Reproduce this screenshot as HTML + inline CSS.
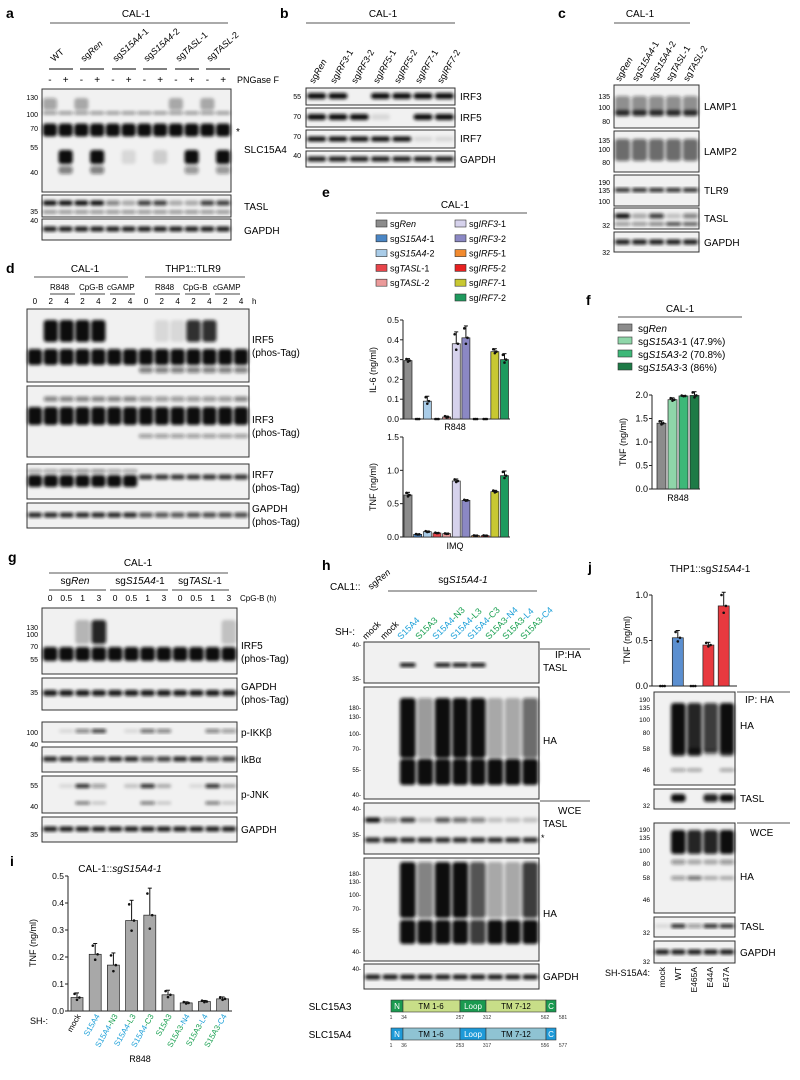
<!DOCTYPE html>
<html><head><meta charset="utf-8">
<style>
html,body{margin:0;padding:0;background:#fff;}
svg{display:block;font-family:"Liberation Sans",Arial,sans-serif;}
.pl{font-weight:bold;font-size:14px;}
.t9{font-size:9px;}
.t10{font-size:10px;}
.mk{font-size:7px;text-anchor:end;}
.it{font-style:italic;}
.cy{fill:#1a9fd8;}
.gr{fill:#18a050;}
</style></head>
<body>
<svg id="fig" width="800" height="1080" viewBox="0 0 800 1080">
<defs><filter id="bl" x="-20%" y="-50%" width="140%" height="200%"><feGaussianBlur stdDeviation="1.5"/></filter></defs>

<!-- Panel a -->
<g>
<text class="pl" x="6" y="18">a</text>
<text class="t10" x="136" y="17" text-anchor="middle">CAL-1</text>
<line x1="50" y1="23" x2="228" y2="23" stroke="#555"/>
<g class="t9">
<text transform="translate(54,62) rotate(-42)">WT</text>
<text transform="translate(84,62) rotate(-42)">sg<tspan class="it">Ren</tspan></text>
<text transform="translate(116,62) rotate(-42)">sg<tspan class="it">S15A4</tspan>-1</text>
<text transform="translate(147,62) rotate(-42)">sg<tspan class="it">S15A4</tspan>-2</text>
<text transform="translate(179,62) rotate(-42)">sg<tspan class="it">TASL</tspan>-1</text>
<text transform="translate(210,62) rotate(-42)">sg<tspan class="it">TASL</tspan>-2</text>
</g>
<g stroke="#333" stroke-width="1.2">
<line x1="49" y1="69" x2="73" y2="69"/><line x1="80" y1="69" x2="104" y2="69"/><line x1="112" y1="69" x2="136" y2="69"/><line x1="143" y1="69" x2="167" y2="69"/><line x1="175" y1="69" x2="199" y2="69"/><line x1="206" y1="69" x2="230" y2="69"/>
</g>
<text id="pngase" class="t9" x="237" y="83">PNGase F</text>
<text class="mk" x="38" y="100">130</text><text class="mk" x="38" y="117">100</text><text class="mk" x="38" y="131">70</text><text class="mk" x="38" y="150">55</text><text class="mk" x="38" y="175">40</text>
<text class="mk" x="38" y="214">35</text><text class="mk" x="38" y="223">40</text>
<text class="t10" x="236" y="135">*</text>
<text class="t10" x="244" y="153">SLC15A4</text>
<text class="t10" x="244" y="210">TASL</text>
<text class="t10" x="244" y="234">GAPDH</text>
</g>

<!-- Panel b -->
<g>
<text class="pl" x="280" y="18">b</text>
<text class="t10" x="383" y="17" text-anchor="middle">CAL-1</text>
<line x1="306" y1="23" x2="455" y2="23" stroke="#555"/>
<g class="t9">
<text transform="translate(314,84) rotate(-60)">sg<tspan class="it">Ren</tspan></text>
<text transform="translate(335,84) rotate(-60)">sg<tspan class="it">IRF3</tspan>-1</text>
<text transform="translate(356,84) rotate(-60)">sg<tspan class="it">IRF3</tspan>-2</text>
<text transform="translate(378,84) rotate(-60)">sg<tspan class="it">IRF5</tspan>-1</text>
<text transform="translate(399,84) rotate(-60)">sg<tspan class="it">IRF5</tspan>-2</text>
<text transform="translate(420,84) rotate(-60)">sg<tspan class="it">IRF7</tspan>-1</text>
<text transform="translate(442,84) rotate(-60)">sg<tspan class="it">IRF7</tspan>-2</text>
</g>
<text class="mk" x="301" y="99">55</text><text class="mk" x="301" y="119">70</text><text class="mk" x="301" y="139">70</text><text class="mk" x="301" y="158">40</text>
<text class="t10" x="460" y="100">IRF3</text><text class="t10" x="460" y="121">IRF5</text><text class="t10" x="460" y="142">IRF7</text><text class="t10" x="460" y="163">GAPDH</text>
</g>

<!-- Panel c -->
<g>
<text class="pl" x="558" y="18">c</text>
<text class="t10" x="640" y="17" text-anchor="middle">CAL-1</text>
<line x1="614" y1="23" x2="690" y2="23" stroke="#555"/>
<g class="t9">
<text transform="translate(620,82) rotate(-60)">sg<tspan class="it">Ren</tspan></text>
<text transform="translate(637,82) rotate(-60)">sg<tspan class="it">S15A4</tspan>-1</text>
<text transform="translate(654,82) rotate(-60)">sg<tspan class="it">S15A4</tspan>-2</text>
<text transform="translate(671,82) rotate(-60)">sg<tspan class="it">TASL</tspan>-1</text>
<text transform="translate(688,82) rotate(-60)">sg<tspan class="it">TASL</tspan>-2</text>
</g>
<text class="mk" x="610" y="99">135</text><text class="mk" x="610" y="110">100</text><text class="mk" x="610" y="124">80</text>
<text class="mk" x="610" y="143">135</text><text class="mk" x="610" y="152">100</text><text class="mk" x="610" y="165">80</text>
<text class="mk" x="610" y="185">190</text><text class="mk" x="610" y="193">135</text><text class="mk" x="610" y="204">100</text>
<text class="mk" x="610" y="228">32</text><text class="mk" x="610" y="255">32</text>
<text class="t10" x="704" y="110">LAMP1</text><text class="t10" x="704" y="155">LAMP2</text><text class="t10" x="704" y="194">TLR9</text><text class="t10" x="704" y="222">TASL</text><text class="t10" x="704" y="246">GAPDH</text>
</g>

<!-- Panel d -->
<g>
<text class="pl" x="6" y="273">d</text>
<text class="t10" x="85" y="272" text-anchor="middle">CAL-1</text>
<line x1="34" y1="277" x2="128" y2="277" stroke="#555"/>
<text class="t10" x="193" y="272" text-anchor="middle">THP1::TLR9</text>
<line x1="145" y1="277" x2="245" y2="277" stroke="#555"/>
<g class="t9" font-size="8">
<text x="50" y="290" font-size="8">R848</text><text x="79" y="290" font-size="8">CpG-B</text><text x="107" y="290" font-size="8">cGAMP</text>
<text x="155" y="290" font-size="8">R848</text><text x="183" y="290" font-size="8">CpG-B</text><text x="213" y="290" font-size="8">cGAMP</text>
</g>
<g stroke="#444"><line x1="50" y1="294" x2="75" y2="294"/><line x1="80" y1="294" x2="105" y2="294"/><line x1="110" y1="294" x2="135" y2="294"/><line x1="155" y1="294" x2="180" y2="294"/><line x1="185" y1="294" x2="210" y2="294"/><line x1="215" y1="294" x2="240" y2="294"/></g>
<g id="dnums" font-size="8" text-anchor="middle"></g>
<text x="252" y="304" font-size="8">h</text>
<text class="t10" x="252" y="343">IRF5</text><text class="t10" x="252" y="356">(phos-Tag)</text>
<text class="t10" x="252" y="423">IRF3</text><text class="t10" x="252" y="436">(phos-Tag)</text>
<text class="t10" x="252" y="478">IRF7</text><text class="t10" x="252" y="491">(phos-Tag)</text>
<text class="t10" x="252" y="512">GAPDH</text><text class="t10" x="252" y="525">(phos-Tag)</text>
</g>

<!-- Panel e -->
<g>
<text class="pl" x="322" y="197">e</text>
<text class="t10" x="455" y="208" text-anchor="middle">CAL-1</text>
<line x1="376" y1="213" x2="527" y2="213" stroke="#555"/>
<g id="elegend" class="t9"></g>
<g id="echart1"></g>
<g id="echart2"></g>
<text class="t9" transform="translate(376,370) rotate(-90)" text-anchor="middle">IL-6 (ng/ml)</text>
<text class="t9" transform="translate(376,487) rotate(-90)" text-anchor="middle">TNF (ng/ml)</text>
<text class="t9" x="455" y="430" text-anchor="middle">R848</text>
<text class="t9" x="455" y="549" text-anchor="middle">IMQ</text>
</g>

<!-- Panel f -->
<g>
<text class="pl" x="586" y="305">f</text>
<text class="t10" x="680" y="312" text-anchor="middle">CAL-1</text>
<line x1="618" y1="317" x2="742" y2="317" stroke="#555"/>
<g id="flegend" class="t10"></g>
<g id="fchart"></g>
<text class="t9" transform="translate(626,442) rotate(-90)" text-anchor="middle">TNF (ng/ml)</text>
<text class="t9" x="678" y="501" text-anchor="middle">R848</text>
</g>

<!-- Panel g -->
<g>
<text class="pl" x="8" y="562">g</text>
<text class="t10" x="138" y="566" text-anchor="middle">CAL-1</text>
<line x1="49" y1="573" x2="228" y2="573" stroke="#555"/>
<text class="t10" x="75" y="584" text-anchor="middle">sg<tspan class="it">Ren</tspan></text>
<text class="t10" x="140" y="584" text-anchor="middle">sg<tspan class="it">S15A4</tspan>-1</text>
<text class="t10" x="200" y="584" text-anchor="middle">sg<tspan class="it">TASL</tspan>-1</text>
<g stroke="#444"><line x1="49" y1="590" x2="106" y2="590"/><line x1="110" y1="590" x2="168" y2="590"/><line x1="172" y1="590" x2="229" y2="590"/></g>
<g id="gnums" font-size="8.5" text-anchor="middle"></g>
<text x="240" y="601" font-size="8">CpG-B (h)</text>
<text class="mk" x="38" y="630">130</text><text class="mk" x="38" y="637">100</text><text class="mk" x="38" y="649">70</text><text class="mk" x="38" y="662">55</text>
<text class="mk" x="38" y="695">35</text><text class="mk" x="38" y="735">100</text><text class="mk" x="38" y="747">40</text>
<text class="mk" x="38" y="788">55</text><text class="mk" x="38" y="809">40</text><text class="mk" x="38" y="837">35</text>
<text class="t10" x="241" y="649">IRF5</text><text class="t10" x="241" y="662">(phos-Tag)</text>
<text class="t10" x="241" y="690">GAPDH</text><text class="t10" x="241" y="703">(phos-Tag)</text>
<text class="t10" x="241" y="736">p-IKKβ</text><text class="t10" x="241" y="763">IkBα</text><text class="t10" x="241" y="798">p-JNK</text><text class="t10" x="241" y="833">GAPDH</text>
</g>

<!-- Panel h -->
<g>
<text class="pl" x="322" y="570">h</text>
<text class="t10" x="330" y="590">CAL1::</text>
<text class="t9" transform="translate(371,590) rotate(-40)">sg<tspan class="it">Ren</tspan></text>
<text class="t10" x="463" y="583" text-anchor="middle">sg<tspan class="it">S15A4-1</tspan></text>
<line x1="388" y1="591" x2="537" y2="591" stroke="#555"/>
<text class="t10" x="335" y="635">SH-:</text>
<g class="t9">
<text transform="translate(366,640) rotate(-45)">mock</text>
<text transform="translate(384,640) rotate(-45)">mock</text>
<text transform="translate(401,640) rotate(-45)" class="cy">S15A4</text>
<text transform="translate(419,640) rotate(-45)" class="gr">S15A3</text>
<text transform="translate(436,640) rotate(-45)"><tspan class="cy">S15A4</tspan><tspan class="gr">-N3</tspan></text>
<text transform="translate(454,640) rotate(-45)"><tspan class="cy">S15A4</tspan><tspan class="gr">-L3</tspan></text>
<text transform="translate(471,640) rotate(-45)"><tspan class="cy">S15A4</tspan><tspan class="gr">-C3</tspan></text>
<text transform="translate(489,640) rotate(-45)"><tspan class="gr">S15A3</tspan><tspan class="cy">-N4</tspan></text>
<text transform="translate(506,640) rotate(-45)"><tspan class="gr">S15A3</tspan><tspan class="cy">-L4</tspan></text>
<text transform="translate(524,640) rotate(-45)"><tspan class="gr">S15A3</tspan><tspan class="cy">-C4</tspan></text>
</g>
<g font-size="6" text-anchor="end">
<text x="361" y="647">40-</text><text x="361" y="681">35-</text>
<text x="361" y="710">180-</text><text x="361" y="719">130-</text><text x="361" y="736">100-</text><text x="361" y="751">70-</text><text x="361" y="772">55-</text><text x="361" y="797">40-</text>
<text x="361" y="811">40-</text><text x="361" y="837">35-</text>
<text x="361" y="876">180-</text><text x="361" y="884">130-</text><text x="361" y="897">100-</text><text x="361" y="911">70-</text><text x="361" y="933">55-</text><text x="361" y="954">40-</text><text x="361" y="971">40-</text>
</g>
<line x1="540" y1="649" x2="590" y2="649" stroke="#555"/>
<text class="t10" x="555" y="658">IP:HA</text><text class="t10" x="543" y="671">TASL</text>
<text class="t10" x="543" y="744">HA</text>
<line x1="540" y1="801" x2="590" y2="801" stroke="#555"/>
<text class="t10" x="558" y="814">WCE</text><text class="t10" x="543" y="827">TASL</text>
<text x="541" y="841" font-size="9">*</text>
<text class="t10" x="543" y="917">HA</text>
<text class="t10" x="543" y="980">GAPDH</text>
<g>
<text class="t10" x="330" y="1010" text-anchor="middle">SLC15A3</text>
<rect x="391" y="1000" width="12" height="12" fill="#1a9a50" stroke="#333" stroke-width=".6"/>
<rect x="403" y="1000" width="57" height="12" fill="#c8de88" stroke="#333" stroke-width=".6"/>
<rect x="460" y="1000" width="26" height="12" fill="#1a9a50" stroke="#333" stroke-width=".6"/>
<rect x="486" y="1000" width="60" height="12" fill="#c8de88" stroke="#333" stroke-width=".6"/>
<rect x="546" y="1000" width="10" height="12" fill="#1a9a50" stroke="#333" stroke-width=".6"/>
<g font-size="8" text-anchor="middle"><text x="397" y="1009" fill="#fff">N</text><text x="431" y="1009">TM 1-6</text><text x="473" y="1009" fill="#fff">Loop</text><text x="516" y="1009">TM 7-12</text><text x="551" y="1009" fill="#fff">C</text></g>
<g font-size="5" text-anchor="middle" fill="#333"><text x="391" y="1019">1</text><text x="404" y="1019">34</text><text x="460" y="1019">257</text><text x="487" y="1019">312</text><text x="545" y="1019">562</text><text x="563" y="1019">581</text></g>
<text class="t10" x="330" y="1038" text-anchor="middle">SLC15A4</text>
<rect x="391" y="1028" width="12" height="12" fill="#1e9ad8" stroke="#333" stroke-width=".6"/>
<rect x="403" y="1028" width="57" height="12" fill="#8fc3d3" stroke="#333" stroke-width=".6"/>
<rect x="460" y="1028" width="26" height="12" fill="#1e9ad8" stroke="#333" stroke-width=".6"/>
<rect x="486" y="1028" width="60" height="12" fill="#8fc3d3" stroke="#333" stroke-width=".6"/>
<rect x="546" y="1028" width="10" height="12" fill="#1e9ad8" stroke="#333" stroke-width=".6"/>
<g font-size="8" text-anchor="middle"><text x="397" y="1037" fill="#fff">N</text><text x="431" y="1037">TM 1-6</text><text x="473" y="1037" fill="#fff">Loop</text><text x="516" y="1037">TM 7-12</text><text x="551" y="1037" fill="#fff">C</text></g>
<g font-size="5" text-anchor="middle" fill="#333"><text x="391" y="1047">1</text><text x="404" y="1047">36</text><text x="460" y="1047">253</text><text x="487" y="1047">317</text><text x="545" y="1047">556</text><text x="563" y="1047">577</text></g>
</g>
</g>

<!-- Panel i -->
<g>
<text class="pl" x="10" y="866">i</text>
<text class="t10" x="120" y="872" text-anchor="middle">CAL-1::<tspan class="it">sgS15A4-1</tspan></text>
<g id="ichart"></g>
<text class="t9" transform="translate(36,943) rotate(-90)" text-anchor="middle">TNF (ng/ml)</text>
<text class="t9" x="30" y="1024">SH-:</text>
<g font-size="8">
<text transform="translate(81,1016) rotate(-60)" text-anchor="end">mock</text>
<text transform="translate(100,1016) rotate(-60)" text-anchor="end" class="cy">S15A4</text>
<text transform="translate(118,1016) rotate(-60)" text-anchor="end"><tspan class="cy">S15A4</tspan><tspan class="gr">-N3</tspan></text>
<text transform="translate(136,1016) rotate(-60)" text-anchor="end"><tspan class="cy">S15A4</tspan><tspan class="gr">-L3</tspan></text>
<text transform="translate(154,1016) rotate(-60)" text-anchor="end"><tspan class="cy">S15A4</tspan><tspan class="gr">-C3</tspan></text>
<text transform="translate(172,1016) rotate(-60)" text-anchor="end" class="gr">S15A3</text>
<text transform="translate(190,1016) rotate(-60)" text-anchor="end"><tspan class="gr">S15A3</tspan><tspan class="cy">-N4</tspan></text>
<text transform="translate(208,1016) rotate(-60)" text-anchor="end"><tspan class="gr">S15A3</tspan><tspan class="cy">-L4</tspan></text>
<text transform="translate(227,1016) rotate(-60)" text-anchor="end"><tspan class="gr">S15A3</tspan><tspan class="cy">-C4</tspan></text>
</g>
<text class="t9" x="140" y="1062" text-anchor="middle">R848</text>
</g>

<!-- Panel j -->
<g>
<text class="pl" x="588" y="572">j</text>
<text class="t10" x="710" y="572" text-anchor="middle">THP1::sg<tspan class="it">S15A4</tspan>-1</text>
<g id="jchart"></g>
<text class="t9" transform="translate(630,640) rotate(-90)" text-anchor="middle">TNF (ng/ml)</text>
<g font-size="6.5" text-anchor="end">
<text x="650" y="702">190</text><text x="650" y="710">135</text><text x="650" y="722">100</text><text x="650" y="735">80</text><text x="650" y="751">58</text><text x="650" y="772">46</text><text x="650" y="808">32</text>
<text x="650" y="832">190</text><text x="650" y="840">135</text><text x="650" y="853">100</text><text x="650" y="866">80</text><text x="650" y="880">58</text><text x="650" y="902">46</text><text x="650" y="935">32</text><text x="650" y="964">32</text>
</g>
<line x1="737" y1="692" x2="790" y2="692" stroke="#555"/>
<text class="t10" x="745" y="703">IP: HA</text><text class="t10" x="740" y="729">HA</text><text class="t10" x="740" y="802">TASL</text>
<line x1="737" y1="823" x2="790" y2="823" stroke="#555"/>
<text class="t10" x="750" y="836">WCE</text><text class="t10" x="740" y="880">HA</text><text class="t10" x="740" y="930">TASL</text><text class="t10" x="740" y="956">GAPDH</text>
<text class="t9" x="605" y="976">SH-S15A4:</text>
<g font-size="8.5" text-anchor="end">
<text transform="translate(665,967) rotate(-90)">mock</text>
<text transform="translate(681,967) rotate(-90)">WT</text>
<text transform="translate(697,967) rotate(-90)">E465A</text>
<text transform="translate(713,967) rotate(-90)">E44A</text>
<text transform="translate(729,967) rotate(-90)">E47A</text>
</g>
</g>
</svg>

<script>
// ===== chart data =====
const eCategories = ["sgRen","sgS15A4-1","sgS15A4-2","sgTASL-1","sgTASL-2","sgIRF3-1","sgIRF3-2","sgIRF5-1","sgIRF5-2","sgIRF7-1","sgIRF7-2"];
const eColors = ["#8c8c8c","#4a86c5","#a9cce8","#e8454b","#eb9a9a","#d6d2ec","#8b88c4","#f28a2e","#e82020","#c8c832","#1e9a5e"];
const il6Values = [0.295,0,0.09,0,0.01,0.38,0.41,0,0,0.34,0.30];
const il6Errors = [0.01,0,0.025,0,0.005,0.06,0.06,0,0,0.015,0.03];
const il6Ticks = [0,0.1,0.2,0.3,0.4,0.5];
const eTnfValues = [0.63,0.04,0.08,0.06,0.05,0.84,0.55,0.02,0.02,0.68,0.92];
const eTnfErrors = [0.04,0.005,0.01,0.005,0.005,0.03,0.01,0.005,0.005,0.02,0.07];
const eTnfTicks = [0,0.5,1.0,1.5];
const fCategories = ["sgRen","sgS15A3-1 (47.9%)","sgS15A3-2 (70.8%)","sgS15A3-3 (86%)"];
const fColors = ["#8c8c8c","#8fd6a9","#3db878","#1d7a46"];
const fValues = [1.40,1.90,1.98,1.99];
const fErrors = [0.05,0.04,0.01,0.08];
const fTicks = [0,0.5,1.0,1.5,2.0];
const iCategories = ["mock","S15A4","S15A4-N3","S15A4-L3","S15A4-C3","S15A3","S15A3-N4","S15A3-L4","S15A3-C4"];
const iValues = [0.05,0.21,0.17,0.335,0.355,0.06,0.03,0.035,0.045];
const iErrors = [0.017,0.04,0.045,0.075,0.1,0.017,0.004,0.004,0.007];
const iTicks = [0,0.1,0.2,0.3,0.4,0.5];
const jCategories = ["mock","WT","E465A","E44A","E47A"];
const jColors = ["#999","#5b8fd0","#999","#e8393f","#e8393f"];
const jValues = [0,0.53,0,0.45,0.88];
const jErrors = [0,0.08,0,0.03,0.15];
const jTicks = [0,0.5,1.0];

const NS="http://www.w3.org/2000/svg";
function el(tag,attrs,parent){const e=document.createElementNS(NS,tag);for(const k in attrs)e.setAttribute(k,attrs[k]);parent.appendChild(e);return e;}
const fig=document.getElementById('fig');

// ===== blots =====
function blot(name,x,y,w,h,n,bands){
  const g=el('g',{},fig);
  
  
  el('rect',{x:x,y:y,width:w,height:h,fill:'#f1f1f1',stroke:'#333','stroke-width':1},g);
  const lw=w/n;
  const bg=el('g',{filter:'url(#bl)'},g);
  bands.forEach(b=>{
    const [by,bh,ints]=b;
    for(let i=0;i<n;i++){const v=ints.length?ints[i]:ints;if(!v)continue;
      el('rect',{x:x+i*lw+lw*0.05,y:by-bh/2,width:lw*0.9,height:bh,rx:Math.min(bh/2,3),fill:'#111','fill-opacity':v},bg);}
  });
}
const A=(n,v)=>Array(n).fill(v);
// panel a
blot('slc15a4-blot',42,89,189,103,12,[[130,13,A(12,1)],[113,3,A(12,0.45)],[104,12,[.35,0,.3,0,0,0,0,0,.3,0,.3,0]],[157,14,[0,1,0,1,0,.1,0,.15,0,1,0,1]],[170,8,[0,.5,0,.5,0,0,0,0,0,.4,0,.4]]]);
blot('tasl-blot-a',42,195,189,22,12,[[203,5,[1,1,1,1,.5,.3,.8,.8,.3,.3,.8,.8]],[212,3,A(12,.5)]]);
blot('gapdh-blot-a',42,219,189,21,12,[[229,5,A(12,.95)]]);
// panel b
blot('irf3-blot-b',306,88,149,17,7,[[96,6,[1,1,0,1,1,1,1]]]);
blot('irf5-blot-b',306,108,149,19,7,[[117,6,[1,1,1,.1,0,1,1]]]);
blot('irf7-blot-b',306,130,149,18,7,[[139,5,[1,1,1,1,1,.1,.1]]]);
blot('gapdh-blot-b',306,151,149,16,7,[[159,5,A(7,.95)]]);
// panel c
blot('lamp1-blot',614,85,85,43,5,[[106,20,A(5,.45)],[113,6,A(5,.8)]]);
blot('lamp2-blot',614,131,85,41,5,[[150,22,A(5,.6)]]);
blot('tlr9-blot',614,175,85,31,5,[[190,4,A(5,.9)]]);
blot('tasl-blot-c',614,208,85,21,5,[[216,5,[1,.3,.8,.2,.5]],[224,3,[.5,.5,.6,.9,.8]]]);
blot('gapdh-blot-c',614,232,85,20,5,[[242,5,A(5,.95)]]);
// panel d
const dl=[1,1,1,1,1,1,1,1,1,1,1,1,1,1];
blot('irf5-phos-blot-d',27,309,222,73,14,[[357,16,dl],[331,22,[0,1,1,1,1,0,0,0,.1,.1,.85,.85,0,0]],[370,6,[0,0,0,0,0,0,0,.5,.5,.5,.5,.5,.5,.5]]]);
blot('irf3-phos-blot-d',27,386,222,71,14,[[416,18,dl],[399,5,[0,.5,.5,.5,.5,.5,.5,.4,.4,.4,.4,.4,.4,.5]],[436,4,[0,0,0,0,0,0,0,.4,.4,.4,.4,.4,.4,.4]]]);
blot('irf7-phos-blot-d',27,464,222,35,14,[[481,12,[1,1,1,1,1,1,1,0,0,0,0,0,0,0]],[471,3,[.4,.4,.5,.5,.5,.4,.4,0,0,0,0,0,0,0]],[477,5,[0,0,0,0,0,0,0,.85,.85,.85,.85,.85,.85,.85]]]);
blot('gapdh-phos-blot-d',27,503,222,25,14,[[515,5,[.9,.9,.9,.9,.9,.9,.9,.7,.7,.7,.75,.75,.75,.75]]]);
// panel g
blot('irf5-phos-blot-g',42,608,195,66,12,[[654,14,A(12,1)],[632,24,[0,0,.25,.9,0,0,0,0,0,0,0,.2]]]);
blot('gapdh-phos-blot-g',42,678,195,32,12,[[693,6,A(12,.95)]]);
blot('p-ikkb-blot',42,722,195,20,12,[[731,4,[0,.1,.5,.8,0,.1,.6,.5,0,0,.5,.4]]]);
blot('ikba-blot',42,747,195,25,12,[[759,5,[.9,.9,.8,.8,.9,.9,.7,.8,.9,.9,.7,.8]]]);
blot('p-jnk-blot',42,776,195,37,12,[[786,4,[0,.1,.9,.4,0,.2,.9,.3,0,.1,.9,.3]],[803,3,[0,0,.6,.2,0,0,.6,.2,0,0,.6,.2]]]);
blot('gapdh-blot-g',42,817,195,25,12,[[829,5,A(12,.95)]]);
// panel h
blot('ip-tasl-blot-h',364,642,175,41,10,[[665,4,[0,0,1,0,1,1,1,0,0,0]]]);
blot('ip-ha-blot-h',364,687,175,112,10,[[728,60,[0,0,1,.4,1,1,1,.3,.3,.6]],[772,26,[0,0,1,1,1,1,1,1,1,1]]]);
blot('wce-tasl-blot-h',364,803,175,51,10,[[820,5,[1,.4,.8,.2,.7,.6,.5,.2,.2,.2]],[840,5,A(10,.9)]]);
blot('wce-ha-blot-h',364,858,175,103,10,[[890,56,[0,0,1,.5,1,1,.7,.3,.3,.8]],[932,24,[0,0,1,1,1,1,.8,1,1,1]]]);
blot('gapdh-blot-h',364,964,175,25,10,[[977,5,A(10,.95)]]);
// panel j
blot('ip-ha-blot-j',654,692,81,93,5,[[728,50,[0,1,.9,.8,1]],[752,8,[0,.9,.9,.2,.8]],[770,3,[0,.4,.4,0,.4]]]);
blot('ip-tasl-blot-j',654,789,81,20,5,[[798,8,[0,1,0,.9,1]]]);
blot('wce-ha-blot-j',654,823,81,90,5,[[842,24,[0,1,.9,.9,1]],[862,5,[0,.4,.3,.3,.4]],[878,4,[0,.4,.6,.3,.3]]]);
blot('wce-tasl-blot-j',654,917,81,20,5,[[926,4,[.1,.9,.4,.9,.9]]]);
blot('gapdh-blot-j',654,941,81,22,5,[[952,5,A(5,.95)]]);

// +/- and time numbers
const pm=document.getElementById('pngase').parentNode;
for(let i=0;i<12;i++){const t=el('text',{x:42+i*15.75+7.9,y:83,'font-size':10,'text-anchor':'middle'},pm);t.textContent=i%2?'+':'-';}
const dTimes=["0","2","4","2","4","2","4","0","2","4","2","4","2","4"];
const dn=document.getElementById('dnums');
dTimes.forEach((s,i)=>{const t=el('text',{x:27+i*15.86+7.9,y:304},dn);t.textContent=s;});
const gTimes=["0","0.5","1","3","0","0.5","1","3","0","0.5","1","3"];
const gn=document.getElementById('gnums');
gTimes.forEach((s,i)=>{const t=el('text',{x:42+i*16.25+8.1,y:601},gn);t.textContent=s;});

// ===== charts =====
function barChart(gid,opt){
  const g=document.getElementById(gid);
  const ys=v=>opt.y0-(v-opt.min)/(opt.max-opt.min)*(opt.y0-opt.y1);
  const xs=i=>opt.x0+opt.pad+i*opt.step;
  el('line',{x1:opt.x0,y1:opt.y0,x2:opt.x0,y2:ys(opt.max),stroke:'#222','stroke-width':1},g);
  el('line',{x1:opt.x0,y1:opt.y0,x2:opt.xEnd,y2:opt.y0,stroke:'#222','stroke-width':1},g);
  opt.ticks.forEach(v=>{
    el('line',{x1:opt.x0-3,y1:ys(v),x2:opt.x0,y2:ys(v),stroke:'#222'},g);
    const t=el('text',{x:opt.x0-4,y:ys(v)+3,'font-size':opt.fs||9,'text-anchor':'end'},g);
    t.textContent=v.toFixed(1);
  });
  opt.values.forEach((v,i)=>{
    const x=xs(i),top=ys(v);
    const r=el('rect',{x:x,y:top,width:opt.bw,height:Math.max(0,opt.y0-top),fill:opt.colors[i],stroke:'#222','stroke-width':0.7},g);
    
    
    const e=opt.errors[i];
    if(e>0){const cx=x+opt.bw/2;
      el('line',{x1:cx,y1:top,x2:cx,y2:ys(v+e),stroke:'#111','stroke-width':1},g);
      el('line',{x1:cx-2,y1:ys(v+e),x2:cx+2,y2:ys(v+e),stroke:'#111','stroke-width':1},g);}
    [-0.25,0,0.25].forEach((o,k)=>{
      const dv=v+(k===0?e*0.8:k===1?-e*0.5:0);
      el('circle',{cx:x+opt.bw/2+o*opt.bw*0.8,cy:ys(Math.max(0,dv)),r:1.3,fill:'#111'},g);
    });
  });
}
barChart('echart1',{x0:403,xEnd:510,y0:419,y1:320,min:0,max:0.5,pad:1,step:9.65,bw:8,ticks:il6Ticks,values:il6Values,errors:il6Errors,colors:eColors,cats:eCategories,fs:8.5});
barChart('echart2',{x0:403,xEnd:510,y0:537,y1:437,min:0,max:1.5,pad:1,step:9.65,bw:8,ticks:eTnfTicks,values:eTnfValues,errors:eTnfErrors,colors:eColors,cats:eCategories,fs:8.5});
barChart('fchart',{x0:652,xEnd:700,y0:489,y1:395,min:0,max:2.0,pad:5,step:11,bw:9,ticks:fTicks,values:fValues,errors:fErrors,colors:fColors,cats:fCategories,fs:9});
barChart('ichart',{x0:68,xEnd:232,y0:1011,y1:876,min:0,max:0.5,pad:3,step:18.2,bw:12,ticks:iTicks,values:iValues,errors:iErrors,colors:A(9,'#a8a8a8'),cats:iCategories,fs:8.5});
barChart('jchart',{x0:652,xEnd:737,y0:686,y1:595,min:0,max:1.0,pad:5,step:15.3,bw:11,ticks:jTicks,values:jValues,errors:jErrors,colors:jColors,cats:jCategories,fs:9});

// legends
const eLabels=[["sg","Ren",""],["sg","S15A4","-1"],["sg","S15A4","-2"],["sg","TASL","-1"],["sg","TASL","-2"],["sg","IRF3","-1"],["sg","IRF3","-2"],["sg","IRF5","-1"],["sg","IRF5","-2"],["sg","IRF7","-1"],["sg","IRF7","-2"]];
const eg=document.getElementById('elegend');
eLabels.forEach((l,i)=>{
  const col=i<5?0:1,row=i<5?i:i-5;
  const x=col?455:376,y=220+row*14.8;
  const s=el('rect',{x:x,y:y,width:11,height:7,fill:eColors[i],stroke:'#333','stroke-width':.6},eg);
  
  
  const t=el('text',{x:x+14,y:y+7},eg);
  
  
  t.appendChild(document.createTextNode(l[0]));
  const it=el('tspan',{'font-style':'italic'},t);it.textContent=l[1];
  t.appendChild(document.createTextNode(l[2]));
});
const fLabels=[["sg","Ren",""],["sg","S15A3","-1 (47.9%)"],["sg","S15A3","-2 (70.8%)"],["sg","S15A3","-3 (86%)"]];
const fg=document.getElementById('flegend');
fLabels.forEach((l,i)=>{
  const y=324+i*13;
  el('rect',{x:618,y:y,width:14,height:7,fill:fColors[i],stroke:'#333','stroke-width':.6},fg);
  const t=el('text',{x:638,y:y+8},fg);
  
  
  t.appendChild(document.createTextNode(l[0]));
  const it=el('tspan',{'font-style':'italic'},t);it.textContent=l[1];
  t.appendChild(document.createTextNode(l[2]));
});
</script>
</body></html>
